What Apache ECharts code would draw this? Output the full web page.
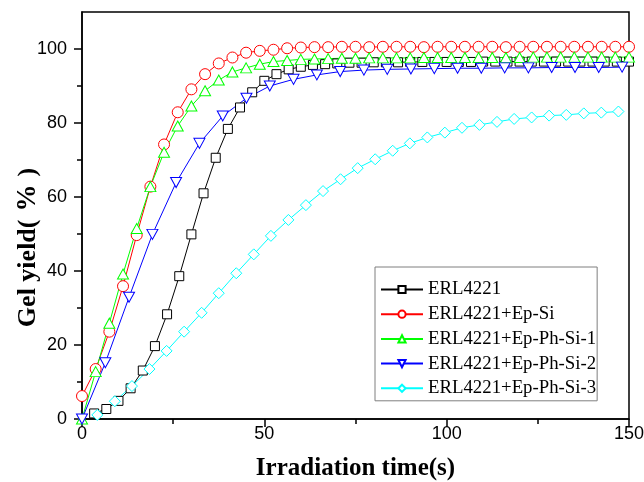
<!DOCTYPE html>
<html>
<head>
<meta charset="utf-8">
<script src="https://cdn.jsdelivr.net/npm/echarts@6/dist/echarts.min.js"></script>
<style>
  html, body { margin: 0; padding: 0; background: #fff; }
  #chart { width: 644px; height: 482px; }
</style>
</head>
<body>
<div id="chart"></div>
<script>
const seriesNames = ['ERL4221', 'ERL4221+Ep-Si', 'ERL4221+Ep-Ph-Si-1', 'ERL4221+Ep-Ph-Si-2', 'ERL4221+Ep-Ph-Si-3'];

// irradiation time (s) of each sample
const timeErl = [3.33, 6.67, 10, 13.33, 16.67, 20, 23.33, 26.67, 30, 33.33, 36.67, 40, 43.33, 46.67, 50,
  53.33, 56.67, 60, 63.33, 66.67, 70, 73.33, 76.67, 80, 83.33, 86.67, 90, 93.33, 96.67, 100,
  103.33, 106.67, 110, 113.33, 116.67, 120, 123.33, 126.67, 130, 133.33, 136.67, 140, 143.33, 146.67, 150];
const timeSi = [0, 3.75, 7.5, 11.25, 15, 18.75, 22.5, 26.25, 30, 33.75, 37.5, 41.25, 45, 48.75, 52.5,
  56.25, 60, 63.75, 67.5, 71.25, 75, 78.75, 82.5, 86.25, 90, 93.75, 97.5, 101.25, 105, 108.75,
  112.5, 116.25, 120, 123.75, 127.5, 131.25, 135, 138.75, 142.5, 146.25, 150];
const timePhSi2 = [0, 6.4, 12.9, 19.3, 25.8, 32.2, 38.6, 45.1, 51.5, 58.0, 64.4, 70.8, 77.3, 83.7, 90.2,
  96.6, 103.0, 109.5, 115.9, 122.4, 128.8, 135.2, 141.7, 148.1];
const timePhSi3 = [4.2, 9.0, 13.7, 18.5, 23.2, 28.0, 32.8, 37.5, 42.3, 47.1, 51.8, 56.6, 61.4, 66.1, 70.9,
  75.6, 80.4, 85.2, 89.9, 94.7, 99.5, 104.2, 109.0, 113.8, 118.5, 123.3, 128.1, 132.8, 137.6, 142.4, 147.1];

// gel yield (%)
const gelErl = [1.5, 2.7, 4.9, 8.3, 13.1, 19.7, 28.3, 38.6, 49.9, 61.0, 70.6, 78.4, 84.2, 88.3, 91.4,
  93.2, 94.5, 95.2, 95.7, 95.9, 96.1, 96.3, 96.3, 96.4, 96.4, 96.4, 96.5, 96.5, 96.5, 96.5,
  96.5, 96.5, 96.6, 96.6, 96.6, 96.6, 96.6, 96.6, 96.6, 96.6, 96.6, 96.6, 96.6, 96.6, 96.6];
const gelSi = [6.2, 13.5, 23.6, 35.9, 49.7, 62.8, 74.2, 82.9, 89.1, 93.2, 96.1, 97.7, 99.0, 99.5, 99.8,
  100.2, 100.4, 100.5, 100.5, 100.6, 100.6, 100.5, 100.6, 100.6, 100.6, 100.5, 100.6, 100.6, 100.6, 100.6,
  100.6, 100.5, 100.6, 100.6, 100.6, 100.6, 100.6, 100.6, 100.6, 100.6, 100.6];
const gelPhSi1 = [0, 12.8, 25.9, 39.2, 51.5, 62.8, 72.1, 79.2, 84.6, 88.7, 91.6, 93.8, 94.9, 95.9, 96.6,
  96.9, 97.2, 97.3, 97.4, 97.5, 97.5, 97.6, 97.6, 97.6, 97.6, 97.7, 97.7, 97.7, 97.7, 97.7,
  97.7, 97.7, 97.7, 97.8, 97.8, 97.8, 97.8, 97.8, 97.8, 97.8, 97.8];
const gelPhSi2 = [0, 15.2, 32.9, 49.9, 63.9, 74.5, 81.9, 86.7, 90.0, 91.8, 93.0, 93.9, 94.3, 94.5, 94.6,
  94.7, 94.8, 94.8, 94.9, 94.9, 95.0, 95.0, 95.0, 95.1];
const gelPhSi3 = [1.1, 4.8, 8.9, 13.5, 18.4, 23.6, 28.7, 34.0, 39.4, 44.5, 49.5, 53.8, 57.8, 61.6, 64.8,
  67.8, 70.2, 72.5, 74.5, 76.1, 77.4, 78.7, 79.5, 80.3, 81.1, 81.5, 82.0, 82.2, 82.6, 82.8, 83.1];

const yMajorTicks = [0, 20, 40, 60, 80, 100];
const yMinorTicks = [10, 30, 50, 70, 90];

const pairs = (xs, ys) => xs.map((x, i) => [x, ys[i]]);

function makeSeries(name, xs, ys, color, symbol, size, rotate) {
  return {
    name,
    type: 'line',
    data: pairs(xs, ys),
    symbol,
    symbolSize: size,
    symbolRotate: rotate || 0,
    showAllSymbol: true,
    lineStyle: { color, width: 1 },
    itemStyle: { color: '#fff', borderColor: color, borderWidth: 1 },
    emphasis: { disabled: true },
  };
}

const chart = echarts.init(document.getElementById('chart'));

const axisFont = { fontFamily: 'Liberation Sans', fontSize: 18, color: '#000' };
const titleFont = { fontFamily: 'Liberation Serif', fontSize: 25, fontWeight: 'bold', color: '#000' };
const yTitleFont = Object.assign({}, titleFont, { fontSize: 26 });

chart.setOption({
  animation: false,
  grid: {
    left: 82, right: 15, top: 12, bottom: 63,
    containLabel: false, outerBoundsMode: 'none',
    show: true, borderColor: '#000', borderWidth: 1.5, backgroundColor: 'transparent',
  },
  legend: {
    orient: 'vertical',
    left: 375, top: 267,
    padding: [13, 1, 3, 5],
    itemGap: 5.7,
    itemWidth: 42,
    itemHeight: 9,
    borderColor: '#7f7f7f',
    borderWidth: 1,
    backgroundColor: '#fff',
    textStyle: { fontFamily: 'Liberation Serif', fontSize: 18.8, lineHeight: 18, color: '#000' },
    data: seriesNames,
  },
  xAxis: {
    type: 'value',
    min: 0, max: 150, interval: 50,
    name: 'Irradiation time(s)',
    nameLocation: 'middle',
    nameGap: 37,
    nameMoveOverlap: false,
    nameTextStyle: titleFont,
    axisLine: { lineStyle: { color: '#000', width: 1.5 } },
    axisTick: { length: 8, lineStyle: { color: '#000', width: 1.5 } },
    minorTick: { show: true, splitNumber: 2, length: 5, lineStyle: { color: '#000', width: 1.5 } },
    axisLabel: Object.assign({ margin: 6 }, axisFont),
    splitLine: { show: false },
  },
  yAxis: [
    {
      type: 'value',
      min: 0, max: 110,
      name: '{t|Gel yield(}{p|%}{t|)}',
      nameLocation: 'middle',
      nameGap: 40,
      nameMoveOverlap: false,
      nameTextStyle: Object.assign({
        padding: [0, 64, 0, 0],
        rich: {
          t: yTitleFont,
          p: Object.assign({}, yTitleFont, { fontSize: 27, padding: [0, 8, 0, 8] }),
        },
      }, yTitleFont),
      axisLine: { lineStyle: { color: '#000', width: 1.5 } },
      axisTick: { length: 8, customValues: yMajorTicks, lineStyle: { color: '#000', width: 1.5 } },
      axisLabel: Object.assign({ margin: 15, customValues: yMajorTicks }, axisFont),
      splitLine: { show: false },
    },
    {
      type: 'value',
      min: 0, max: 110,
      position: 'left',
      axisLine: { show: false },
      axisTick: { length: 5, customValues: yMinorTicks, lineStyle: { color: '#000', width: 1.5 } },
      axisLabel: { show: false },
      splitLine: { show: false },
    },
  ],
  series: [
    makeSeries(seriesNames[0], timeErl, gelErl, '#000000', 'rect', 9),
    makeSeries(seriesNames[1], timeSi, gelSi, '#ff0000', 'circle', 11),
    makeSeries(seriesNames[2], timeSi, gelPhSi1, '#00ff00', 'triangle', [11, 10]),
    makeSeries(seriesNames[3], timePhSi2, gelPhSi2, '#0000ff', 'triangle', [11, 10], 180),
    makeSeries(seriesNames[4], timePhSi3, gelPhSi3, '#00ffff', 'diamond', 11),
  ],
});
</script>
</body>
</html>
